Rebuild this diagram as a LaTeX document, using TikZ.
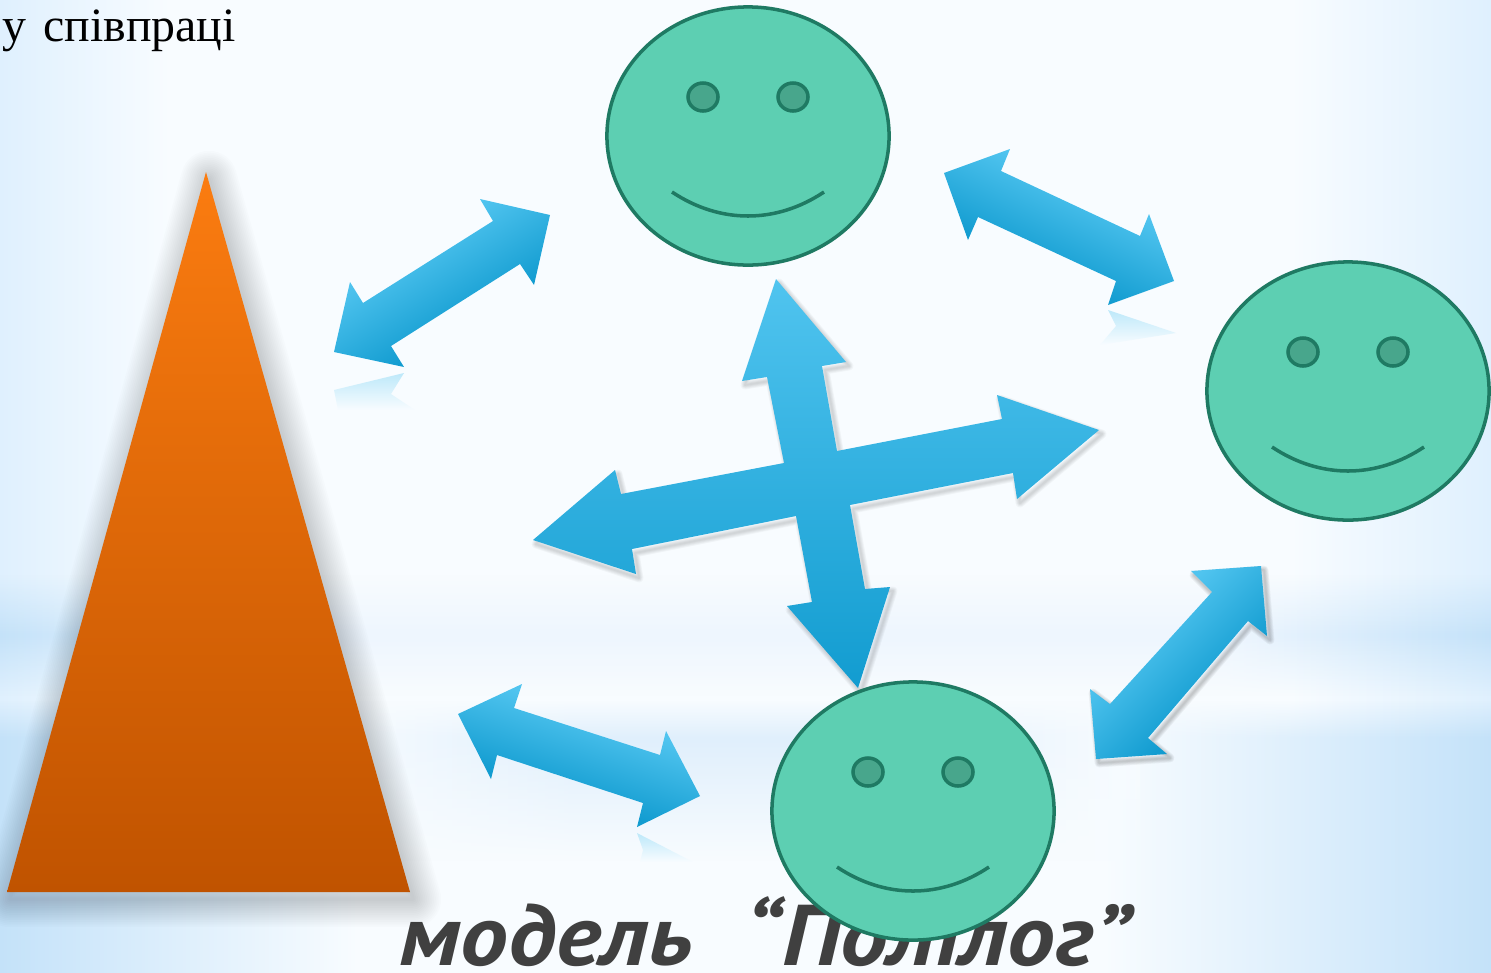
\documentclass[tikz,border=0pt]{standalone}
\usepackage{fontspec}
\setmainfont{Liberation Serif}
\newfontfamily\titlefont{PT Sans}[FakeStretch=1.11]
\usetikzlibrary{shapes.geometric,fadings}
\definecolor{skyedge}{HTML}{C4E2F9}
\definecolor{skyside}{HTML}{DFF0FE}
\definecolor{skymid}{HTML}{EEF6FE}
\definecolor{skytint}{HTML}{E0EFFC}
\definecolor{skypale}{HTML}{F8FCFF}
\definecolor{arrowlight}{HTML}{50C4EF}
\definecolor{arrowdark}{HTML}{129CD0}
\definecolor{facefill}{HTML}{5DCFB2}
\definecolor{faceline}{HTML}{1F7A63}
\definecolor{eyefill}{HTML}{48A68C}
\definecolor{conetop}{HTML}{FB7C10}
\definecolor{conebottom}{HTML}{C05300}
\definecolor{titlegray}{HTML}{404040}
\pgfdeclarehorizontalshading{lowersky}{100bp}{color(0bp)=(skyedge); color(25bp)=(skyedge); color(37bp)=(skypale); color(62bp)=(skypale); color(75bp)=(skyedge); color(100bp)=(skyedge)}
\pgfdeclarehorizontalshading{bandsky}{100bp}{color(0bp)=(skyedge); color(25bp)=(skyedge); color(33bp)=(skymid); color(66bp)=(skymid); color(75bp)=(skyedge); color(100bp)=(skyedge)}
\pgfdeclarehorizontalshading{tintsky}{100bp}{color(0bp)=(skypale); color(25bp)=(skypale); color(40bp)=(skytint); color(58bp)=(skytint); color(75bp)=(skypale); color(100bp)=(skypale)}
\pgfdeclareverticalshading{arrowband}{100bp}{color(0bp)=(arrowdark); color(37bp)=(arrowdark); color(63bp)=(arrowlight); color(100bp)=(arrowlight)}
\tikzfading[name=bandfade,top color=transparent!100,bottom color=transparent!100,middle color=transparent!0]
\tikzfading[name=fadein,top color=transparent!100,bottom color=transparent!0]
\tikzfading[name=fadeout,top color=transparent!0,bottom color=transparent!100]
\tikzset{
  face/.style={ellipse,draw=faceline,fill=facefill,line width=1pt,inner sep=0pt,minimum width=2.82cm,minimum height=2.58cm},
  eye/.style={ellipse,draw=faceline,fill=eyefill,line width=1pt,inner sep=0pt,minimum width=0.30cm,minimum height=0.28cm},
  smile/.style={draw=faceline,line width=1pt},
  blockarrow/.style={shading=arrowband,shading angle=#1},
  mirror/.style={top color=arrowlight!35!skypale,bottom color=skypale},
  crosspath/.style={insert path={(776,279)--(846,362)--(822,366)--(837,451)--(1002,419)--(997,395)--(1099,430)--(1017,499)--(1013,473)--(850,505)--(865,589)--(890,587)--(858,688)--(787,606)--(812,602)--(796,516)--(632,549)--(636,574)--(533,540)--(615,470)--(621,494)--(784,463)--(767,377)--(742,381)--cycle}},
  sidepath/.style={insert path={(1261,566)--(1267,636)--(1248,621)--(1148,738)--(1167,754)--(1096,759)--(1090,689)--(1110,704)--(1212,592)--(1191,571)--cycle}},
  conepath/.style={insert path={(206,172)--(410,892)--(7,892)--cycle}}
}
\begin{document}
\begin{tikzpicture}[x=0.01cm,y=-0.01cm]
    \useasboundingbox (0,0) rectangle (1491,972);
    \fill[skypale] (0,0) rectangle (1491,972);
    \shade[left color=skyside,right color=skypale] (0,0) rectangle (170,740);
    \shade[left color=skypale,right color=skyside] (1290,0) rectangle (1491,740);
    \shade[shading=bandsky,path fading=bandfade] (0,575) rectangle (1491,695);
    \shade[shading=lowersky,path fading=fadein] (0,700) rectangle (1491,738);
    \shade[shading=lowersky] (0,737.5) rectangle (1491,972);
    \shade[shading=tintsky,path fading=fadein] (330,700) rectangle (1140,738);
    \shade[shading=tintsky,path fading=fadeout] (330,737.5) rectangle (1140,860);
    \node[anchor=base west,inner sep=0pt,font=\fontsize{13.6}{13.6}\selectfont] (caption) at (2,41) {у\hspace{0.05cm} співпраці};
    \node[anchor=base,inner sep=0pt,text=titlegray,font=\titlefont\itshape\bfseries\fontsize{24.5}{24.5}\selectfont] (title) at (765,965) {модель \ \hspace{0.05cm}“Полілог”};
    \begin{scope}[shift={(3,7)}]
      \foreach \w in {1,2,...,16} {\draw[black,opacity=0.01,line width=\w pt,line join=round] [conepath];}
    \end{scope}
    \shade[top color=conetop,bottom color=conebottom] [conepath];
    \begin{scope}[shift={(3,4)}]
      \foreach \w in {0.5,1,...,2.5} {\draw[black,opacity=0.03,line width=\w pt,line join=round] [crosspath];}
      \foreach \w in {0.5,1,...,2.5} {\draw[black,opacity=0.045,line width=\w pt,line join=round] [sidepath];}
    \end{scope}
    \shade[top color=arrowlight,bottom color=arrowdark] [crosspath];
    \shade[blockarrow=32] (550,215)--(534,285)--(520,264)--(391,346)--(404,367)--(334,352)--(350,282)--(363,303)--(493,221)--(480,199)--cycle;
    \shade[blockarrow=-25] (944,173)--(1010,149)--(1001,171)--(1140,236)--(1149,214)--(1174,281)--(1108,305)--(1116,281)--(978,217)--(968,240)--cycle;
    \shade[blockarrow=-18] (458,714)--(522,684)--(514,708)--(660,755)--(666,731)--(700,796)--(637,827)--(643,803)--(497,755)--(491,779)--cycle;
    \shade[blockarrow=45] [sidepath];
    \shade[mirror] (404,373)--(391,394)--(415,410)--(338,410)--(334,390)--cycle;
    \shade[mirror] (1108,310)--(1176,333)--(1100,345)--(1116,326)--cycle;
    \shade[mirror] (637,833)--(693,862)--(640,862)--(643,850)--cycle;
    \foreach \nm/\fx/\fy in {top/748/136,right/1348/391,bottom/913/811} {
      \begin{scope}[shift={(\fx,\fy)}]
        \node[face] (face\nm) at (0,0) {};
        \node[eye] (eyeL\nm) at (-45,-39) {};
        \node[eye] (eyeR\nm) at (45,-39) {};
        \draw[smile] (-76,56) .. controls (-28,88) and (28,88) .. (76,56);
      \end{scope}
    }
\end{tikzpicture}
\end{document}
